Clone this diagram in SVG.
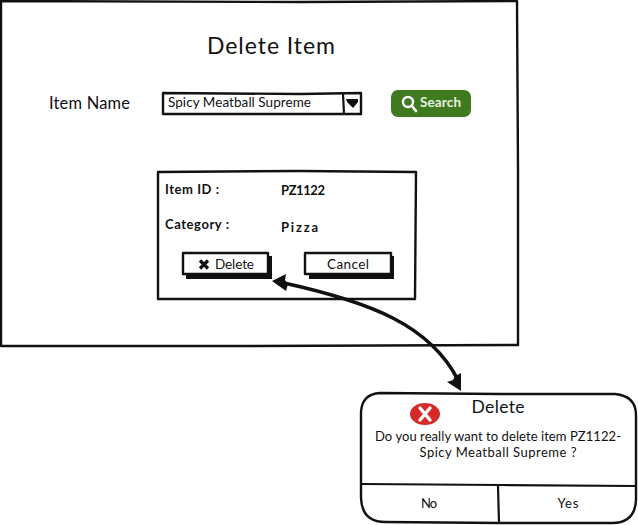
<svg xmlns="http://www.w3.org/2000/svg" width="638" height="525" viewBox="0 0 638 525">
<style>
text{font-family:"Lato","Open Sans",sans-serif;fill:#111}
.ln{fill:none;stroke:#111;stroke-width:2.200;stroke-linecap:round;stroke-linejoin:round}
.box{fill:#fff;stroke:#111;stroke-width:2.400;stroke-linejoin:round}
.shadow{fill:#111}
.b{font-weight:700;font-size:13px}
.m{text-anchor:middle}
</style>
<rect width="638" height="525" fill="#fff"/>
<g id="window"><path class="box" d="M1 1L300 2L517 1L518 170L518 345L250 346L1 346L1 170Z"/></g>
<g id="title"><text x="271" y="54" class="m" font-size="23" textLength="128">Delete Item</text></g>
<g id="item-name-label"><text x="49" y="109" font-size="16.500" textLength="81">Item Name</text></g>
<g id="item-select">
<path class="box" d="M163 93L300 94L361 93L361 114L250 114L163 114Z"/>
<path class="ln" d="M343 94L344 114"/>
<path class="shadow" d="M346 99L358 99L358 102L353 108L347 102Z"/>
<text x="168" y="107" font-size="13.500" textLength="143">Spicy Meatball Supreme</text>
</g>
<g id="search-button">
<rect x="391" y="90" width="80" height="27" rx="7" fill="#3f7a1f"/>
<circle cx="408" cy="102" r="5" fill="none" stroke="#fff" stroke-width="2.400"/>
<path d="M412 106L416 111" stroke="#fff" stroke-width="2.600" stroke-linecap="round"/>
<text x="420" y="107" font-size="13.500" font-weight="700" style="fill:#e8f0e0" textLength="41">Search</text>
</g>
<g id="details-panel">
<path class="box" d="M158 172L300 171L416 172L415 299L300 299L158 299Z"/>
<text x="165" y="194" class="b" textLength="54">Item ID :</text>
<text x="281" y="195" class="b" textLength="44">PZ1122</text>
<text x="165" y="229" class="b" textLength="64">Category :</text>
<text x="281" y="232" class="b" textLength="37">Pizza</text>
</g>
<g id="delete-button">
<path class="shadow" d="M186 256L272 256L272 279L186 279Z"/>
<path class="box" d="M183 253L268 253L268 274L183 274Z"/>
<path d="M200 260.500L208 268.500M208 260.500L200 268.500" stroke="#111" stroke-width="3.200"/>
<text x="215" y="269" font-size="13.500" textLength="39">Delete</text>
</g>
<g id="cancel-button">
<path class="shadow" d="M309 256L394 256L394 279L309 279Z"/>
<path class="box" d="M305 253L391 253L391 274L305 274Z"/>
<text x="348" y="269" class="m" font-size="13.500" textLength="42">Cancel</text>
</g>
<g id="connectors">
<path d="M284 283C370 302 430 325 458 380" fill="none" stroke="#111" stroke-width="3.600"/>
<path class="shadow" d="M272 281L286 274L285 280L288 284L286 291Z"/>
<path class="shadow" d="M461 391L447 382L453 380L455 376L461 373Z"/>
</g>
<g id="confirm-dialog">
<path class="box" d="M380 393L500 394L615 394Q636 396 636 415L636 500Q635 523 612 523L500 523L385 522Q362 522 361 498L361 412Q362 394 380 393Z"/>
<path class="ln" d="M361 484L500 485L636 486"/>
<path class="ln" d="M498 486L499 523"/>
<ellipse cx="425" cy="414" rx="15" ry="11" fill="#d42a2a"/>
<path d="M420 408L430 420M430 408L420 420" stroke="#fff" stroke-width="3.400" stroke-linecap="round"/>
<text x="498" y="413" class="m" font-size="17.500" textLength="53">Delete</text>
<text x="498" y="441" class="m" font-size="13" textLength="246">Do you really want to delete item PZ1122-</text>
<text x="498" y="457" class="m" font-size="13" textLength="157">Spicy Meatball Supreme  ?</text>
<text x="429" y="508" class="m" font-size="13" textLength="16">No</text>
<text x="568" y="508" class="m" font-size="13" textLength="21">Yes</text>
</g>
</svg>
